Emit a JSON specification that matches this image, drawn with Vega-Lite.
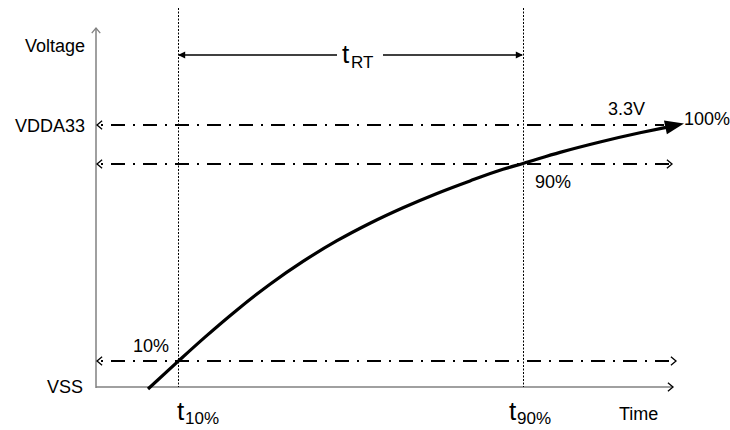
{
  "$schema": "https://vega.github.io/schema/vega-lite/v6.json",
  "width": 730,
  "height": 430,
  "autosize": {"type": "none"},
  "padding": 0,
  "background": "white",
  "config": {"view": {"stroke": null}},
  "datasets": {
    "lines": [
      {"kind": "axis", "t": 96, "v": 388, "t2": 96, "v2": 28},
      {"kind": "axis", "t": 96, "v": 387, "t2": 673, "v2": 387},
      {"kind": "marker", "t": 178.5, "v": 8, "t2": 178.5, "v2": 387},
      {"kind": "marker", "t": 523.5, "v": 8, "t2": 523.5, "v2": 387},
      {"kind": "level", "t": 97, "v": 125, "t2": 664, "v2": 125},
      {"kind": "level", "t": 97, "v": 164, "t2": 672, "v2": 164},
      {"kind": "level", "t": 97, "v": 361, "t2": 676, "v2": 361},
      {"kind": "span", "t": 179, "v": 55, "t2": 337, "v2": 55},
      {"kind": "span", "t": 383, "v": 55, "t2": 522, "v2": 55}
    ],
    "curve": [
      {"t": 148, "v": 389}, {"t": 178, "v": 361.4}, {"t": 205, "v": 337.1},
      {"t": 237, "v": 309.9}, {"t": 270, "v": 284.2}, {"t": 303, "v": 261.4},
      {"t": 337, "v": 240.7}, {"t": 370, "v": 223.2}, {"t": 403, "v": 207.7},
      {"t": 437, "v": 193.4}, {"t": 470, "v": 180.9}, {"t": 503, "v": 169.3},
      {"t": 523, "v": 163.5}, {"t": 560, "v": 152.4}, {"t": 600, "v": 142},
      {"t": 640, "v": 132.8}, {"t": 666, "v": 127.4}
    ],
    "heads": [
      {"kind": "open", "dir": "left", "t": 97, "v": 125},
      {"kind": "open", "dir": "left", "t": 97, "v": 164},
      {"kind": "open", "dir": "left", "t": 97, "v": 361},
      {"kind": "open", "dir": "right", "t": 672, "v": 164},
      {"kind": "open", "dir": "right", "t": 676, "v": 361},
      {"kind": "open", "dir": "right", "t": 673, "v": 387},
      {"kind": "open", "dir": "up", "t": 96, "v": 28},
      {"kind": "solid", "dir": "left", "t": 178, "v": 55},
      {"kind": "solid", "dir": "right", "t": 523, "v": 55},
      {"kind": "tip", "dir": "curve", "t": 684, "v": 123.4}
    ],
    "labels": [
      {"role": "axis", "text": "Voltage", "t": 85, "v": 52},
      {"role": "axis", "text": "VDDA33", "t": 85, "v": 132},
      {"role": "axis", "text": "VSS", "t": 83, "v": 393},
      {"role": "note", "text": "3.3V", "t": 608, "v": 115},
      {"role": "note", "text": "100%", "t": 684, "v": 125},
      {"role": "note", "text": "90%", "t": 535, "v": 188},
      {"role": "note", "text": "10%", "t": 133, "v": 352},
      {"role": "note", "text": "Time", "t": 619, "v": 420},
      {"role": "sym", "text": "t", "t": 177, "v": 420},
      {"role": "sym", "text": "t", "t": 509, "v": 420},
      {"role": "sym", "text": "t", "t": 342, "v": 63},
      {"role": "sub", "text": "10%", "t": 185, "v": 424},
      {"role": "sub", "text": "90%", "t": 517, "v": 424},
      {"role": "sub", "text": "RT", "t": 351, "v": 68}
    ]
  },
  "encoding": {
    "x": {"field": "t", "type": "quantitative", "scale": {"domain": [0, 730], "nice": false, "zero": false}, "axis": null},
    "y": {"field": "v", "type": "quantitative", "scale": {"domain": [0, 430], "nice": false, "zero": false, "reverse": true}, "axis": null}
  },
  "layer": [
    {
      "data": {"name": "lines"},
      "transform": [{"filter": "datum.kind === 'axis'"}],
      "mark": {"type": "rule", "stroke": "#808080", "strokeWidth": 1.5},
      "encoding": {"x2": {"field": "t2"}, "y2": {"field": "v2"}}
    },
    {
      "data": {"name": "lines"},
      "transform": [{"filter": "datum.kind === 'marker'"}],
      "mark": {"type": "rule", "stroke": "black", "strokeWidth": 1, "strokeDash": [2, 1.5]},
      "encoding": {"x2": {"field": "t2"}, "y2": {"field": "v2"}}
    },
    {
      "data": {"name": "lines"},
      "transform": [{"filter": "datum.kind === 'level'"}],
      "mark": {"type": "rule", "stroke": "black", "strokeWidth": 2, "strokeDash": [14, 8, 2, 8], "strokeDashOffset": 18},
      "encoding": {"x2": {"field": "t2"}, "y2": {"field": "v2"}}
    },
    {
      "data": {"name": "lines"},
      "transform": [{"filter": "datum.kind === 'span'"}],
      "mark": {"type": "rule", "stroke": "black", "strokeWidth": 1.5},
      "encoding": {"x2": {"field": "t2"}, "y2": {"field": "v2"}}
    },
    {
      "data": {"name": "curve"},
      "mark": {"type": "line", "stroke": "black", "strokeWidth": 3.2, "interpolate": "monotone", "strokeCap": "butt"},
      "encoding": {"order": {"field": "t", "type": "quantitative"}}
    },
    {
      "data": {"name": "heads"},
      "transform": [{"filter": "datum.kind === 'open' && datum.dir === 'left'"}],
      "mark": {"type": "point", "shape": "M1.2,-1L0,0L1.2,1", "size": 72, "filled": false, "stroke": "black", "strokeWidth": 1.3, "opacity": 1}
    },
    {
      "data": {"name": "heads"},
      "transform": [{"filter": "datum.kind === 'open' && datum.dir === 'right'"}],
      "mark": {"type": "point", "shape": "M1.2,-1L0,0L1.2,1", "angle": 180, "size": 72, "filled": false, "stroke": "black", "strokeWidth": 1.3, "opacity": 1}
    },
    {
      "data": {"name": "heads"},
      "transform": [{"filter": "datum.kind === 'open' && datum.dir === 'up'"}],
      "mark": {"type": "point", "shape": "M1.2,-1L0,0L1.2,1", "angle": 90, "size": 72, "filled": false, "stroke": "#808080", "strokeWidth": 1.3, "opacity": 1}
    },
    {
      "data": {"name": "heads"},
      "transform": [{"filter": "datum.kind === 'solid' && datum.dir === 'left'"}],
      "mark": {"type": "point", "shape": "M0,0L1.6,-0.8L1.6,0.8Z", "size": 81, "filled": true, "color": "black", "opacity": 1}
    },
    {
      "data": {"name": "heads"},
      "transform": [{"filter": "datum.kind === 'solid' && datum.dir === 'right'"}],
      "mark": {"type": "point", "shape": "M0,0L1.6,-0.8L1.6,0.8Z", "angle": 180, "size": 81, "filled": true, "color": "black", "opacity": 1}
    },
    {
      "data": {"name": "heads"},
      "transform": [{"filter": "datum.kind === 'tip'"}],
      "mark": {"type": "point", "shape": "M0,0L-2,-0.75L-2,0.75Z", "angle": 348, "size": 361, "filled": true, "color": "black", "opacity": 1}
    },
    {
      "data": {"name": "labels"},
      "transform": [{"filter": "datum.role === 'axis'"}],
      "mark": {"type": "text", "align": "right", "baseline": "alphabetic", "font": "Liberation Sans", "fontSize": 18, "color": "black"},
      "encoding": {"text": {"field": "text"}}
    },
    {
      "data": {"name": "labels"},
      "transform": [{"filter": "datum.role === 'note'"}],
      "mark": {"type": "text", "align": "left", "baseline": "alphabetic", "font": "Liberation Sans", "fontSize": 18, "color": "black"},
      "encoding": {"text": {"field": "text"}}
    },
    {
      "data": {"name": "labels"},
      "transform": [{"filter": "datum.role === 'sym'"}],
      "mark": {"type": "text", "align": "left", "baseline": "alphabetic", "font": "Liberation Sans", "fontSize": 26, "color": "black"},
      "encoding": {"text": {"field": "text"}}
    },
    {
      "data": {"name": "labels"},
      "transform": [{"filter": "datum.role === 'sub'"}],
      "mark": {"type": "text", "align": "left", "baseline": "alphabetic", "font": "Liberation Sans", "fontSize": 17, "color": "black"},
      "encoding": {"text": {"field": "text"}}
    }
  ]
}
